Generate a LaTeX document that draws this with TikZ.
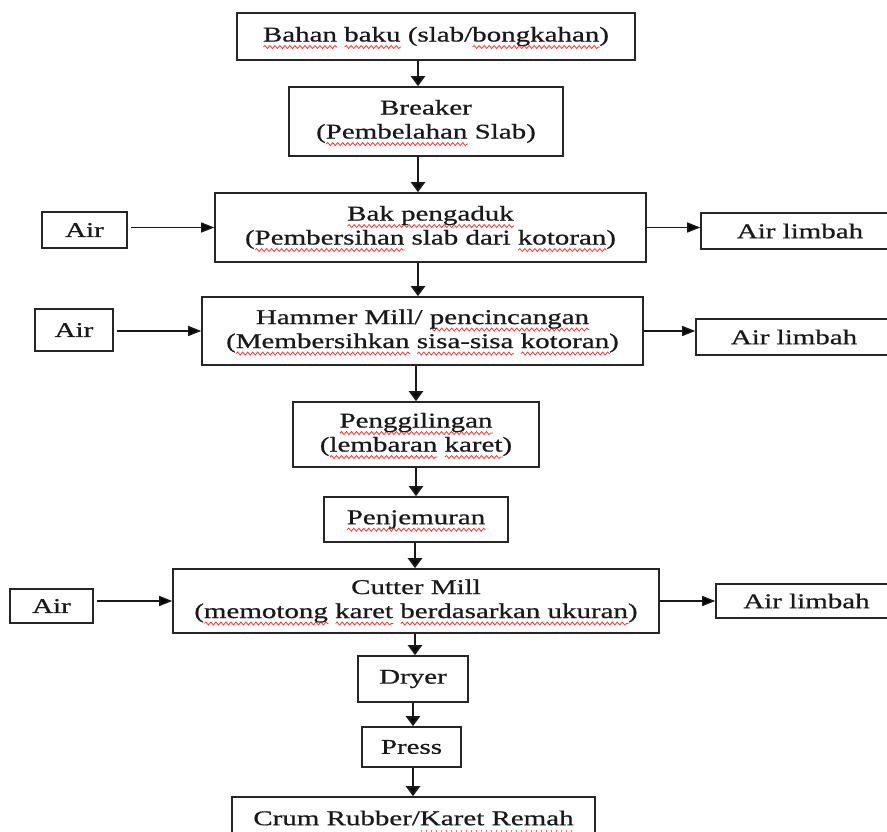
\documentclass[tikz,border=0pt]{standalone}
\usepackage{fontspec}
\setmainfont{Liberation Serif}[FakeStretch=1.38,FakeBold=0.7]
\usetikzlibrary{arrows.meta,decorations.pathmorphing}
\newsavebox\rwbox
\newdimen\rwlen
\newcommand\rw[1]{\leavevmode\sbox\rwbox{#1}\rwlen=\wd\rwbox
  \rlap{\smash{\tikz[baseline=0pt,x=1pt,y=1pt]\draw[red!80!white, line width=0.8pt,
    decorate, decoration={snake, amplitude=1.5pt, segment length=5pt}]
    (0,-5.5) -- (\the\rwlen,-5.5);}}\usebox\rwbox}
\newcommand\rd[1]{\leavevmode\sbox\rwbox{#1}\rwlen=\wd\rwbox
  \rlap{\smash{\tikz[baseline=0pt,x=1pt,y=1pt]\draw[red!60, line width=1.4pt,
    dash pattern=on 1.4pt off 3.6pt] (0,-6) -- (\the\rwlen,-6);}}\usebox\rwbox}
\tikzset{
  box/.style={draw=black!85, line width=1.6pt, inner sep=0pt, align=center,
              font=\fontsize{21}{24}\selectfont, text=black!90},
  varr/.style={-{Triangle[length=10pt,width=14pt]}, line width=2.2pt, draw=black!90},
  harr/.style={-{Triangle[length=13pt,width=10pt]}, line width=1.4pt, draw=black!90},
}
\begin{document}
\begin{tikzpicture}[x=1pt,y=-1pt]
\useasboundingbox (0,0) rectangle (887,832);
\clip (0,0) rectangle (887,832);
\fill[white] (0,0) rectangle (887,832);

\node[box, minimum width=398pt, minimum height=47pt] (b1) at (436,36.5)
  {\rw{Bahan} \rw{baku} (slab/\rw{bongkahan})};
\node[box, minimum width=274pt, minimum height=69pt] (b2) at (426,121.5)
  {Breaker\\(\rw{Pembelahan} Slab)};
\node[box, minimum width=431pt, minimum height=69pt] (b3) at (430.5,227.5)
  {\rw{Bak pengaduk}\\(\rw{Pembersihan} slab dari \rw{kotoran})};
\node[box, minimum width=441pt, minimum height=68pt] (b4) at (422.5,331)
  {Hammer Mill/ \rw{pencincangan}\\(\rw{Membersihkan} \rw{sisa-sisa} \rw{kotoran})};
\node[box, minimum width=246pt, minimum height=65pt] (b5) at (416,434.5)
  {\rw{Penggilingan}\\(\rw{lembaran} \rw{karet})};
\node[box, minimum width=184pt, minimum height=45pt] (b6) at (416,519.5)
  {\rw{Penjemuran}};
\node[box, minimum width=486pt, minimum height=64pt] (b7) at (416,601)
  {Cutter Mill\\(\rw{memotong} \rw{karet} \rw{berdasarkan ukuran})};
\node[box, minimum width=110pt, minimum height=46pt] (dryer) at (413,679) {Dryer};
\node[box, minimum width=99pt, minimum height=40pt] (press) at (411.5,747) {Press};
\node[box, minimum width=363pt, minimum height=42pt] (crum) at (413.5,818)
  {Crum Rubber/\rd{Karet Remah}};

\node[box, minimum width=85pt, minimum height=36pt] (air1) at (84.5,230) {Air};
\node[box, minimum width=78pt, minimum height=42pt] (air2) at (74,330) {Air};
\node[box, minimum width=83pt, minimum height=34pt] (air3) at (51.5,606) {Air};
\node[box, minimum width=198pt, minimum height=36pt] (lim1) at (800,231) {Air limbah};
\node[box, minimum width=196pt, minimum height=36pt] (lim2) at (794,337) {Air limbah};
\node[box, minimum width=181pt, minimum height=34pt] (lim3) at (806.5,601) {Air limbah};

\coordinate (xa) at (418,0);
\coordinate (xb) at (416,0);
\coordinate (xc) at (415,0);
\coordinate (xd) at (413,0);

\draw[varr] (b1.south -| xa) -- (b2.north -| xa);
\draw[varr] (b2.south -| xa) -- (b3.north -| xa);
\draw[varr] (b3.south -| xa) -- (b4.north -| xa);
\draw[varr] (b4.south -| xb) -- (b5.north -| xb);
\draw[varr] (b5.south -| xb) -- (b6.north -| xb);
\draw[varr] (b6.south -| xc) -- (b7.north -| xc);
\draw[varr] (b7.south -| xc) -- (dryer.north -| xc);
\draw[varr] (dryer.south -| xd) -- (press.north -| xd);
\draw[varr] (press.south -| xd) -- (crum.north -| xd);

\draw[harr, shorten <=3pt] (air1.east |- b3.west) -- (b3.west);
\draw[harr, shorten <=3pt] (air2.east |- b4.west) -- (b4.west);
\draw[harr, shorten <=3pt] (air3.east |- b7.west) -- (b7.west);
\draw[harr] (b3.east) -- (b3.east -| lim1.west);
\draw[harr] (b4.east) -- (b4.east -| lim2.west);
\draw[harr] (b7.east) -- (b7.east -| lim3.west);
\end{tikzpicture}
\end{document}
